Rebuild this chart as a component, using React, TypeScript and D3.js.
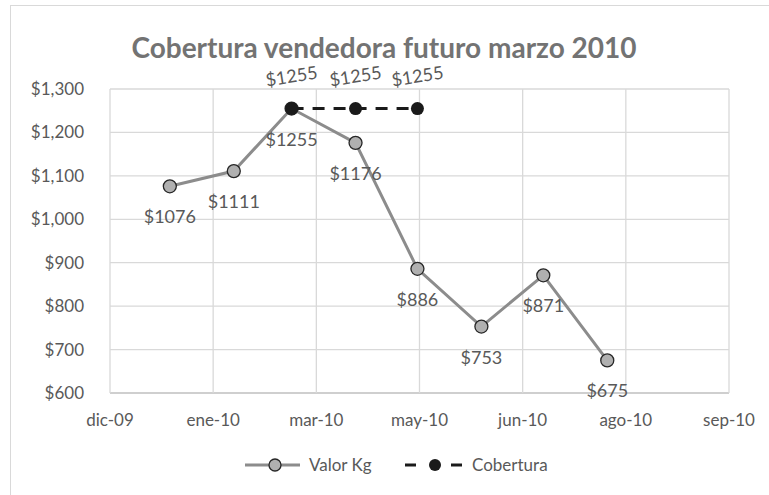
import React from "react";
import * as d3 from "d3";

const valorDates = ["2010-01-01", "2010-02-01", "2010-03-01", "2010-04-01", "2010-05-01", "2010-06-01", "2010-07-01", "2010-08-01"];
const valorValues = [1076, 1111, 1255, 1176, 886, 753, 871, 675];
const coberturaDates = ["2010-03-01", "2010-04-01", "2010-05-01"];
const coberturaValues = [1255, 1255, 1255];
const xTickDates = ["2009-12-03", "2010-01-22", "2010-03-13", "2010-05-02", "2010-06-21", "2010-08-10", "2010-09-29"];
const xTickLabels = ["dic-09", "ene-10", "mar-10", "may-10", "jun-10", "ago-10", "sep-10"];
const yTicks = [600, 700, 800, 900, 1000, 1100, 1200, 1300];

const W = 769, H = 495;
const FONT = "Lato, 'Open Sans', sans-serif";
const parse = (s: string) => new Date(s + "T00:00:00Z");

export default function App() {
  const x = d3.scaleUtc().domain([parse(xTickDates[0]), parse(xTickDates[xTickDates.length - 1])]).range([110, 729]);
  const y = d3.scaleLinear().domain([600, 1300]).range([393, 89]);
  const fmt = d3.format("$,");

  const valor = valorDates.map((d, i) => ({ x: x(parse(d)), y: y(valorValues[i]), v: valorValues[i] }));
  const cob = coberturaDates.map((d, i) => ({ x: x(parse(d)), y: y(coberturaValues[i]), v: coberturaValues[i] }));
  const line = d3.line<{ x: number; y: number }>().x(d => d.x).y(d => d.y);

  const gray = "#595959";
  return (
    <svg width={W} height={H} style={{ position: "absolute", left: 0, top: 0, background: "#fff" }}>
      <rect x={10.5} y={5.5} width={W} height={H} fill="#fff" stroke="#d9d9d9" />
      <text x={384} y={58} textAnchor="middle" fontFamily={FONT} fontWeight="bold" fontSize={28} fill="#737373">
        Cobertura vendedora futuro marzo 2010
      </text>
      {yTicks.map(t => (
        <g key={t}>
          <line x1={110} x2={729} y1={y(t)} y2={y(t)} stroke={t === 600 ? "#bfbfbf" : "#d9d9d9"} strokeWidth={1.3} />
          <text x={84} y={y(t) + 6} textAnchor="end" fontFamily={FONT} fontSize={17} fill={gray}>{fmt(t)}</text>
        </g>
      ))}
      {xTickDates.map((d, i) => (
        <g key={d}>
          <line x1={x(parse(d))} x2={x(parse(d))} y1={89} y2={393} stroke="#d9d9d9" strokeWidth={1.3} />
          <text x={x(parse(d))} y={426} textAnchor="middle" fontFamily={FONT} fontSize={17} fill={gray}>{xTickLabels[i]}</text>
        </g>
      ))}
      <path d={line(valor) || ""} fill="none" stroke="#8c8c8c" strokeWidth={3} />
      {valor.map((p, i) => (
        <g key={i}>
          <circle cx={p.x} cy={p.y} r={6.5} fill="#b0b0b0" stroke="#262626" strokeWidth={1.3} />
          <text x={p.x} y={p.y + 37} textAnchor="middle" fontFamily={FONT} fontSize={18} fill={gray}>{"$" + p.v}</text>
        </g>
      ))}
      <path d={line(cob) || ""} fill="none" stroke="#1a1a1a" strokeWidth={3} strokeDasharray="12,9" />
      {cob.map((p, i) => (
        <g key={i}>
          <circle cx={p.x} cy={p.y} r={6.5} fill="#1a1a1a" />
          <text transform={`translate(${p.x + 1},${p.y - 26}) rotate(-9)`} textAnchor="middle" fontFamily={FONT} fontSize={18} fill={gray}>{"$" + p.v}</text>
        </g>
      ))}
      <g>
        <line x1={245} x2={300} y1={465} y2={465} stroke="#8c8c8c" strokeWidth={3} />
        <circle cx={275} cy={465} r={6} fill="#b0b0b0" stroke="#262626" strokeWidth={1.3} />
        <text x={309} y={471} fontFamily={FONT} fontSize={17} fill={gray}>Valor Kg</text>
        <line x1={405} x2={416} y1={465} y2={465} stroke="#1a1a1a" strokeWidth={3} />
        <line x1={451} x2={462} y1={465} y2={465} stroke="#1a1a1a" strokeWidth={3} />
        <circle cx={435} cy={465} r={6} fill="#1a1a1a" />
        <text x={472} y={471} fontFamily={FONT} fontSize={17} fill={gray}>Cobertura</text>
      </g>
    </svg>
  );
}
